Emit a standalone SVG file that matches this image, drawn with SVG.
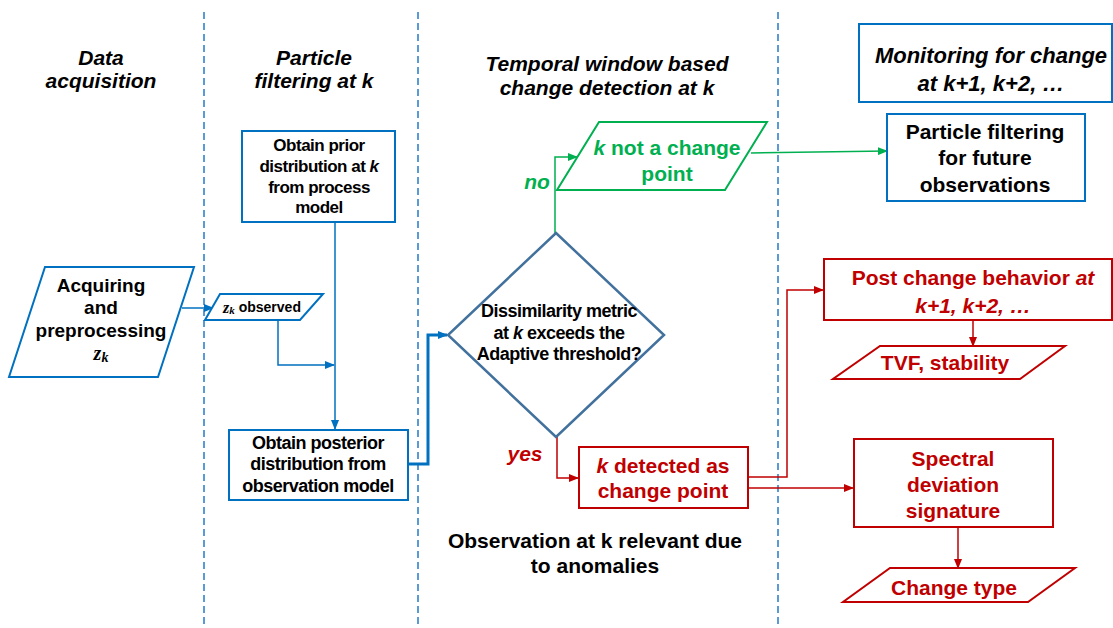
<svg xmlns="http://www.w3.org/2000/svg" width="1113" height="628" viewBox="0 0 1113 628">
  <style>
    text { font-family: "Liberation Sans", Arial, sans-serif; font-weight: bold; text-anchor: middle; dominant-baseline: central; }
    .hdr { font-style: italic; font-size: 21px; fill: #000; }
    .blk { fill: #000; }
    .red { fill: #C00000; }
    .grn { fill: #00B050; }
    .math { font-family: "Liberation Serif", "Times New Roman", serif; font-style: italic; }
    .lane { stroke: #5B9BD5; stroke-width: 2; stroke-dasharray: 7 4; fill: none; }
    .bbox { fill: #fff; stroke: #0070C0; stroke-width: 2; }
    .rbox { fill: #fff; stroke: #C00000; stroke-width: 2; }
    .gbox { fill: #fff; stroke: #00B050; stroke-width: 2; }
    .dia { fill: #fff; stroke: #41719C; stroke-width: 2.5; }
    .cb { fill: none; stroke: #0070C0; stroke-width: 1.5; }
    .cbt { fill: none; stroke: #0070C0; stroke-width: 3; }
    .cr { fill: none; stroke: #C00000; stroke-width: 1.5; }
    .cg { fill: none; stroke: #00B050; stroke-width: 1.5; }
  </style>
  <defs>
    <marker id="ab" markerUnits="userSpaceOnUse" markerWidth="10" markerHeight="8" refX="9" refY="4" orient="auto">
      <path d="M0,0 L10,4 L0,8 Z" fill="#0070C0"/>
    </marker>
    <marker id="ar" markerUnits="userSpaceOnUse" markerWidth="10" markerHeight="8" refX="9" refY="4" orient="auto">
      <path d="M0,0 L10,4 L0,8 Z" fill="#C00000"/>
    </marker>
    <marker id="ag" markerUnits="userSpaceOnUse" markerWidth="10" markerHeight="8" refX="9" refY="4" orient="auto">
      <path d="M0,0 L10,4 L0,8 Z" fill="#00B050"/>
    </marker>
  </defs>

  <rect width="1113" height="628" fill="#fff"/>

  <!-- swim-lane separators -->
  <g id="lanes">
    <line class="lane" x1="204" y1="12" x2="204" y2="628"/>
    <line class="lane" x1="418" y1="12" x2="418" y2="628"/>
    <line class="lane" x1="778" y1="12" x2="778" y2="628"/>
  </g>

  <!-- lane headings -->
  <g id="headers">
    <text class="hdr" x="101" y="57">Data</text>
    <text class="hdr" x="101" y="80">acquisition</text>
    <text class="hdr" x="314" y="57">Particle</text>
    <text class="hdr" x="314" y="80">filtering at k</text>
    <text class="hdr" x="607" y="63">Temporal window based</text>
    <text class="hdr" x="607" y="87">change detection at k</text>
  </g>

  <!-- connectors -->
  <g id="connectors">
    <line class="cb" x1="182" y1="308" x2="213" y2="308" marker-end="url(#ab)"/>
    <polyline class="cb" points="278,320 278,365 334,365" marker-end="url(#ab)"/>
    <line class="cb" x1="335" y1="222" x2="335" y2="429" marker-end="url(#ab)"/>
    <polyline class="cbt" points="408,464 428,464 428,335 447,335" marker-end="url(#ab)"/>
    <polyline class="cg" points="555,233 555,157 577,157" marker-end="url(#ag)"/>
    <polyline class="cg" points="751,153 887,151" marker-end="url(#ag)"/>
    <polyline class="cr" points="557,437 557,478 578,478" marker-end="url(#ar)"/>
    <polyline class="cr" points="748,477 787,477 787,290 823,290" marker-end="url(#ar)"/>
    <line class="cr" x1="748" y1="488" x2="853" y2="488" marker-end="url(#ar)"/>
    <line class="cr" x1="973" y1="320" x2="973" y2="346" marker-end="url(#ar)"/>
    <line class="cr" x1="958" y1="527" x2="958" y2="568" marker-end="url(#ar)"/>
    <text class="grn" x="537" y="181" style="font-style:italic;font-size:21px">no</text>
    <text class="red" x="525" y="453" style="font-style:italic;font-size:21px">yes</text>
  </g>

  <g id="acquire">
    <polygon class="bbox" points="45,267 194,267 158,377 9,377"/>
    <text class="blk" x="101" y="285" font-size="19">Acquiring</text>
    <text class="blk" x="101" y="307" font-size="19">and</text>
    <text class="blk" x="101" y="330" font-size="19">preprocessing</text>
    <text class="blk math" x="101" y="353" font-size="20">z<tspan font-size="14" dy="4">k</tspan></text>
  </g>

  <g id="observed">
    <polygon class="bbox" points="220,294 323,294 300,320 205,320"/>
    <text class="blk" x="262" y="307" font-size="14"><tspan class="math" font-size="16">z</tspan><tspan class="math" font-size="11" dy="3">k</tspan><tspan dy="-3"> observed</tspan></text>
  </g>

  <g id="prior">
    <rect class="bbox" x="242" y="131" width="153" height="91"/>
    <text class="blk" x="319" y="145" font-size="17" letter-spacing="-0.5">Obtain prior</text>
    <text class="blk" x="319" y="166" font-size="17" letter-spacing="-0.5">distribution at <tspan font-style="italic">k</tspan></text>
    <text class="blk" x="319" y="187" font-size="17" letter-spacing="-0.5">from process</text>
    <text class="blk" x="319" y="207" font-size="17" letter-spacing="-0.5">model</text>
  </g>

  <g id="posterior">
    <rect class="bbox" x="229" y="430" width="179" height="70"/>
    <text class="blk" x="318" y="443" font-size="18" letter-spacing="-0.5">Obtain posterior</text>
    <text class="blk" x="318" y="464" font-size="18" letter-spacing="-0.5">distribution from</text>
    <text class="blk" x="318" y="486" font-size="18" letter-spacing="-0.5">observation model</text>
  </g>

  <g id="decision">
    <polygon class="dia" points="556,233 664,335 556,437 448,335"/>
    <text class="blk" x="559" y="311" font-size="18" letter-spacing="-0.5">Dissimilarity metric</text>
    <text class="blk" x="559" y="333" font-size="18" letter-spacing="-0.5">at <tspan font-style="italic">k</tspan> exceeds the</text>
    <text class="blk" x="559" y="354" font-size="18" letter-spacing="-0.5">Adaptive threshold?</text>
  </g>

  <g id="not-change">
    <polygon class="gbox" points="599,122 767,122 725,190 557,190"/>
    <text class="grn" x="667" y="147" font-size="21"><tspan font-style="italic">k</tspan> not a change</text>
    <text class="grn" x="667" y="173" font-size="21">point</text>
  </g>

  <g id="detected">
    <rect class="rbox" x="579" y="447" width="169" height="61"/>
    <text class="red" x="663" y="465" font-size="21"><tspan font-style="italic">k</tspan> detected as</text>
    <text class="red" x="663" y="490" font-size="21">change point</text>
  </g>

  <g id="relevance-note">
    <text class="blk" x="595" y="540" font-size="21">Observation at k relevant due</text>
    <text class="blk" x="595" y="565" font-size="21">to anomalies</text>
  </g>

  <g id="monitoring">
    <rect class="bbox" x="859" y="24" width="253" height="78"/>
    <text class="hdr" x="991" y="55" style="font-size:22px">Monitoring for change</text>
    <text class="hdr" x="991" y="83" style="font-size:22px">at k+1, k+2, …</text>
  </g>

  <g id="future-pf">
    <rect class="bbox" x="887" y="114" width="198" height="87"/>
    <text class="blk" x="985" y="131" font-size="21">Particle filtering</text>
    <text class="blk" x="985" y="157" font-size="21">for future</text>
    <text class="blk" x="985" y="184" font-size="21">observations</text>
  </g>

  <g id="post-change">
    <rect class="rbox" x="824" y="259" width="288" height="61"/>
    <text class="red" x="973" y="277" font-size="21">Post change behavior <tspan font-style="italic">at</tspan></text>
    <text class="red" x="973" y="305" font-size="21" font-style="italic">k+1, k+2, …</text>
  </g>

  <g id="tvf">
    <polygon class="rbox" points="880,346 1065,346 1020,379 833,379"/>
    <text class="red" x="945" y="362" font-size="21">TVF, stability</text>
  </g>

  <g id="spectral">
    <rect class="rbox" x="854" y="439" width="199" height="88"/>
    <text class="red" x="953" y="458" font-size="21">Spectral</text>
    <text class="red" x="953" y="484" font-size="21">deviation</text>
    <text class="red" x="953" y="510" font-size="21">signature</text>
  </g>

  <g id="change-type">
    <polygon class="rbox" points="890,568 1075,568 1028,602 843,602"/>
    <text class="red" x="954" y="587" font-size="21">Change type</text>
  </g>
</svg>
